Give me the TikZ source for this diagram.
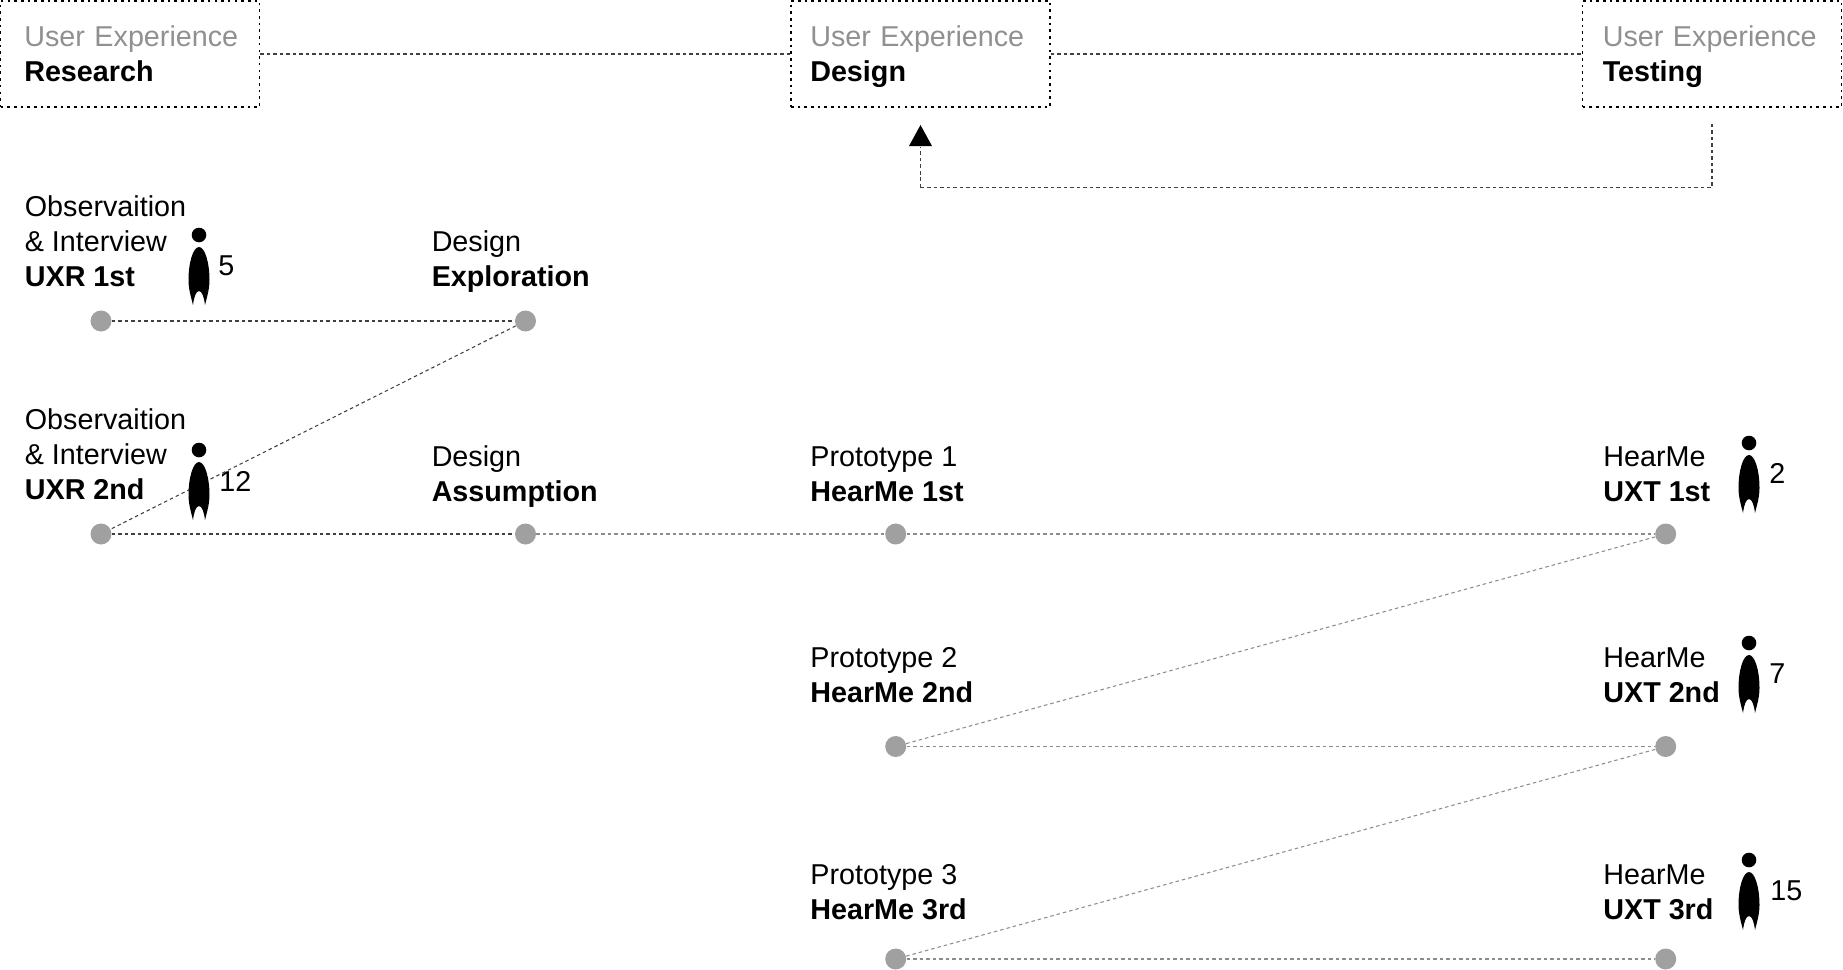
\documentclass[tikz,border=0pt]{standalone}
\usepackage{fontspec}
\setmainfont{Liberation Sans}
\usetikzlibrary{arrows.meta}
\definecolor{dotgray}{HTML}{A0A0A0}
\definecolor{titlegray}{HTML}{909090}
\newcommand{\phasetext}[2]{\rule{0pt}{15pt}\mbox{\textcolor{titlegray}{#1}}\\\textbf{#2\vphantom{g}}}
\tikzset{
  phase/.style={draw=black, line width=0.95pt, dash pattern=on 1.5pt off 2.3pt, minimum width=5.18cm, minimum height=2.12cm,
    inner sep=0pt, align=left, font=\fontsize{16.35}{19.7}\selectfont},
  stage/.style={circle, fill=dotgray, minimum size=0.42cm, inner sep=0pt},
  caption/.style={anchor=base west, inner sep=0pt, align=left, font=\fontsize{16.35}{19.7}\selectfont},
  darkline/.style={draw=black!75, line width=0.6pt, dash pattern=on 2pt off 1.7pt},
  lightline/.style={draw=black!45, line width=0.6pt, dash pattern=on 2pt off 1.7pt},
  person/.pic={
    \fill (0,0) circle (7.3);
    \fill (0,12) .. controls (6,12) and (10.5,28) .. (10.5,45) .. controls (10.5,54) and (8,62) .. (6,70)
      .. controls (5,62) and (3,56) .. (0,56) .. controls (-3,56) and (-5,62) .. (-6,70)
      .. controls (-8,62) and (-10.5,54) .. (-10.5,45) .. controls (-10.5,28) and (-6,12) .. (0,12) -- cycle;
  }
}
\begin{document}
\begin{tikzpicture}[x=0.02cm, y=-0.02cm]
\useasboundingbox (0,0) rectangle (1843,970);
% top boxes
\node[phase, text width=4.23cm] (research) at (130,54) {\phasetext{User Experience}{Research}};
\node[phase, text width=4.41cm] (design) at (920.5,54) {\phasetext{User Experience}{Design}};
\node[phase, text width=4.37cm] (testing) at (1712,54) {\phasetext{User Experience}{Testing}};
\draw[darkline] (research) -- (design);
\draw[darkline] (design) -- (testing);
\coordinate (turn) at (920.5,187.5);
\draw[darkline, shorten <=0.32cm] (testing.south) |- (turn);
\draw[darkline, shorten >=0.78cm] (turn) -- (design.south);
\fill (920.5,125) -- (932,146) -- (909,146) -- cycle;
% stages
\foreach \name/\x/\y in {obsA/101/321, explore/525.5/321, obsB/101/534, assume/525.5/534, protoA/895.7/534, uxtA/1665.7/534,
    protoB/895.7/746.5, uxtB/1665.7/746.5, protoC/895.7/959, uxtC/1665.7/959}
  \node[stage] (\name) at (\x,\y) {};
\draw[darkline] (obsA) -- (explore);
\draw[darkline] (explore) -- (obsB);
\draw[darkline] (obsB) -- (assume);
\draw[lightline] (assume) -- (protoA);
\draw[lightline] (protoA) -- (uxtA);
\draw[lightline] (uxtA) -- (protoB);
\draw[lightline] (protoB) -- (uxtB);
\draw[lightline] (uxtB) -- (protoC);
\draw[lightline] (protoC) -- (uxtC);
% captions
\foreach \name/\x/\y/\txt in {capA/24.5/286/{Observaition\\\& Interview\\\textbf{UXR 1st}},
    capB/431.4/286/{Design\\\textbf{Exploration}},
    capC/24.5/499/{Observaition\\\& Interview\\\textbf{UXR 2nd}},
    capD/431.4/501.5/{Design\\\textbf{Assumption}},
    capE/810/501.5/{Prototype 1\\\textbf{HearMe 1st}},
    capF/1603/501.5/{HearMe\\\textbf{UXT 1st}},
    capG/810/702/{Prototype 2\\\textbf{HearMe 2nd}},
    capH/1603/702/{HearMe\\\textbf{UXT 2nd}},
    capI/810/919/{Prototype 3\\\textbf{HearMe 3rd}},
    capJ/1603/919/{HearMe\\\textbf{UXT 3rd}}}
  \node[caption] (\name) at (\x,\y) {\txt};
% people
\foreach \name/\x/\y/\nx/\ny/\cnt in {peopleA/199/235/218/275/5, peopleB/199/450/219/491/12, peopleC/1749/443/1769/483/2,
    peopleD/1749/643/1769/683/7, peopleE/1749/860/1770/900/15} {
  \pic at (\x,\y) {person};
  \node[caption] (\name) at (\nx,\ny) {\cnt};
}
\end{tikzpicture}
\end{document}
